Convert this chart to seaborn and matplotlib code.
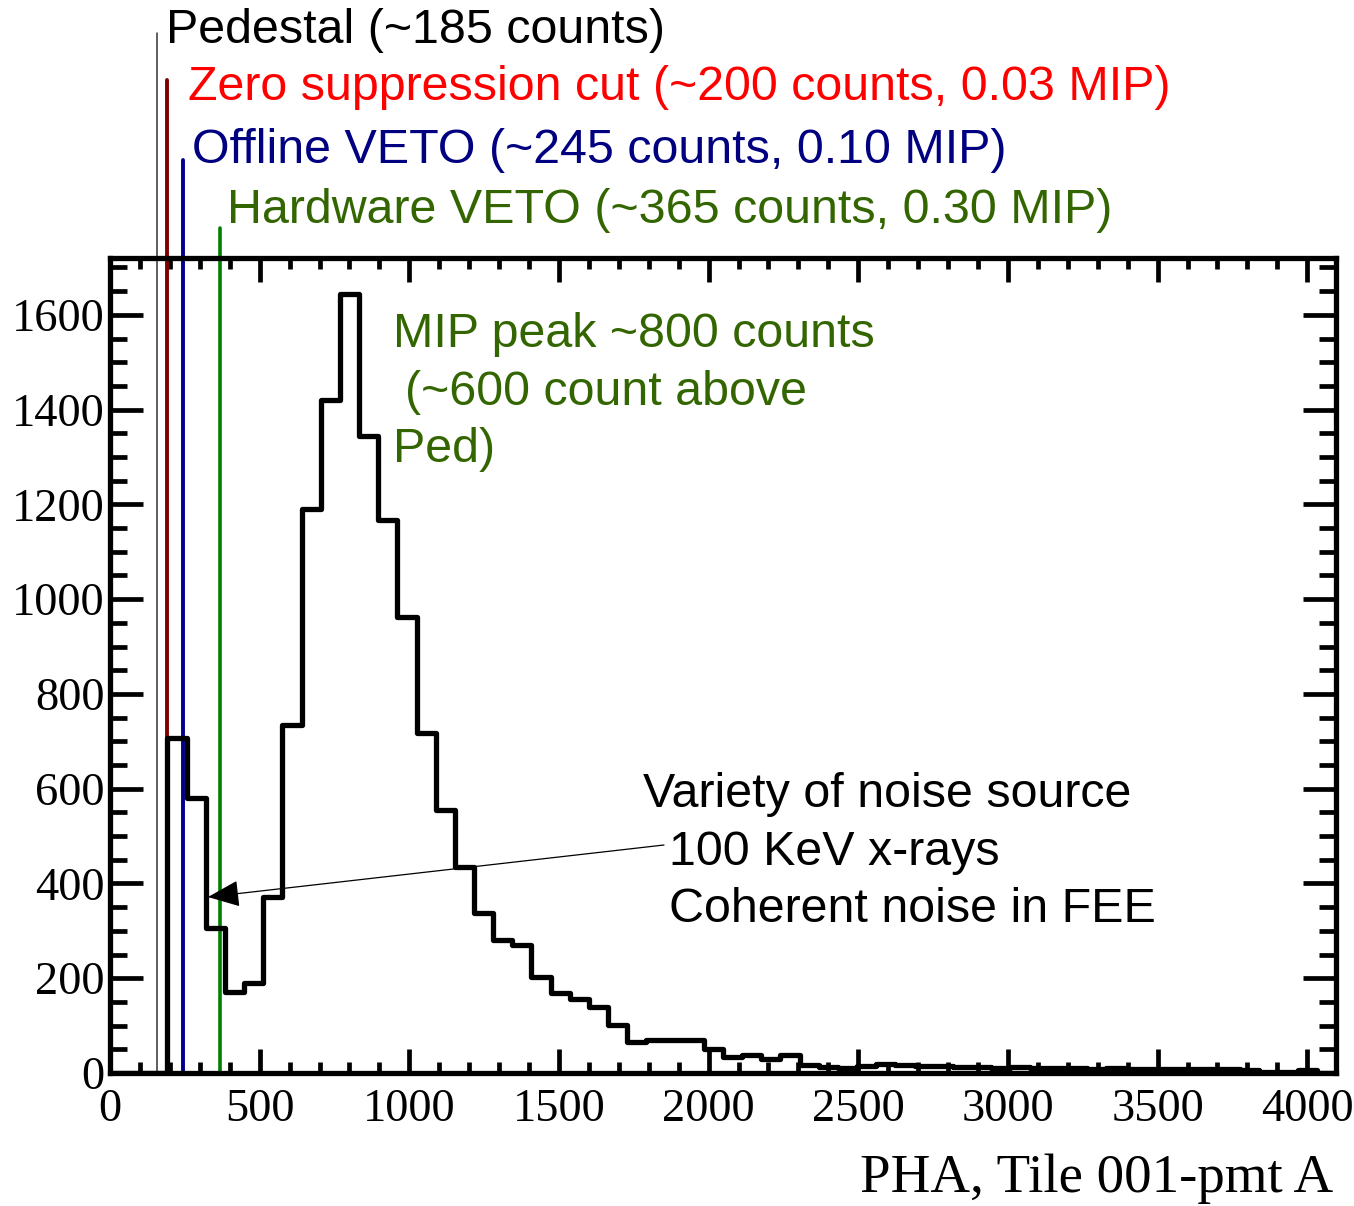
import numpy as np
import pandas as pd
import matplotlib
matplotlib.use("Agg")
import matplotlib.pyplot as plt
from matplotlib.ticker import MultipleLocator
import seaborn as sns

# ---------------- data ----------------
bin_width = 64
bin_edges = list(range(0, 4096 + bin_width, bin_width))
counts = [0, 0, 0, 707, 580, 306, 171, 190, 371, 735,
          1190, 1420, 1645, 1345, 1167, 963, 718, 555, 435, 338,
          281, 270, 203, 169, 156, 139, 101, 65, 70, 70,
          70, 51, 34, 38, 29, 38, 17, 13, 10, 14,
          18, 16, 15, 14, 12, 13, 11, 12, 10, 11,
          10, 9, 10, 9, 8, 9, 8, 8, 9, 7,
          3, 2, 6, 0]
bin_centers = [(a + b) / 2 for a, b in zip(bin_edges[:-1], bin_edges[1:])]

cut_names = ["Pedestal", "Zero suppression", "Offline VETO", "Hardware VETO"]
cut_positions = [157, 192, 245, 367]
cut_line_tops = [2195, 2096, 1927, 1784]
cut_labels = ["Pedestal (~185 counts)",
              "Zero suppression cut (~200 counts, 0.03 MIP)",
              "Offline VETO (~245 counts, 0.10 MIP)",
              "Hardware VETO (~365 counts, 0.30 MIP)"]

xticks = [0, 500, 1000, 1500, 2000, 2500, 3000, 3500, 4000]
yticks = [0, 200, 400, 600, 800, 1000, 1200, 1400, 1600]

df = pd.DataFrame({"pha": bin_centers, "n": counts})

# ---------------- style ----------------
sns.set_style("white")
plt.rcParams["font.family"] = ["Liberation Sans", "DejaVu Sans"]

W, H = 1354, 1206
fig = plt.figure(figsize=(W / 100, H / 100), dpi=100)
ax = fig.add_axes([110 / W, 1 - 1073 / H, (1336 - 110) / W, (1073 - 258) / H])

sns.histplot(data=df, x="pha", weights="n", bins=bin_edges, element="step",
             fill=False, color="black", linewidth=3.8, ax=ax)

ax.set_xlim(0, 4096)
ax.set_ylim(0, 1720)
ax.set_xticks(xticks)
ax.set_yticks(yticks)
ax.xaxis.set_minor_locator(MultipleLocator(100))
ax.yaxis.set_minor_locator(MultipleLocator(50))
ax.set_xlabel("")
ax.set_ylabel("")

for sp in ax.spines.values():
    sp.set_linewidth(3.8)
    sp.set_color("black")
    sp.set_visible(True)

ax.tick_params(which="both", direction="in", top=True, right=True,
               bottom=True, left=True, width=3.4, color="black",
               labelcolor="black")
ax.tick_params(axis="x", which="major", length=17, pad=11)
ax.tick_params(axis="x", which="minor", length=8)
ax.tick_params(axis="y", which="major", length=24, pad=4)
ax.tick_params(axis="y", which="minor", length=12)
for lab in ax.get_xticklabels() + ax.get_yticklabels():
    lab.set_fontfamily("Liberation Serif")
    lab.set_fontsize(33.5)
    lab.set_color("black")

# cut lines (extend above the frame)
line_colors = ["#333333", "#800000", "#00008b", "#008000"]
line_widths = [1.1, 2.8, 2.8, 2.6]
for xp, top, c, lw in zip(cut_positions, cut_line_tops, line_colors, line_widths):
    ax.plot([xp, xp], [0, top], color=c, lw=lw, clip_on=False, zorder=1)

def ftext(x, y, s, **kw):
    fig.text(x / W, 1 - y / H, s, va="baseline", **kw)

FS = 34.8
txt_colors = ["black", "#ff0000", "#000080", "#336600"]
txt_x = [166, 188, 192, 227]
txt_y = [43, 100, 163, 223]
for s, c, x, y in zip(cut_labels, txt_colors, txt_x, txt_y):
    ftext(x, y, s, color=c, fontsize=FS)

# MIP peak annotation
olive = "#336600"
ftext(393, 347, "MIP peak ~800 counts", color=olive, fontsize=FS)
ftext(405, 405, "(~600 count above", color=olive, fontsize=FS)
ftext(393, 462, "Ped)", color=olive, fontsize=FS)

# noise annotation
ftext(643, 807, "Variety of noise source", color="black", fontsize=FS)
ftext(669, 865, "100 KeV x-rays", color="black", fontsize=FS)
ftext(669, 922, "Coherent noise in FEE", color="black", fontsize=FS)

ax.annotate("", xy=(208 / W, 1 - 897 / H), xycoords="figure fraction",
            xytext=(664 / W, 1 - 845 / H), textcoords="figure fraction",
            arrowprops=dict(arrowstyle="-|>,head_length=1.0,head_width=0.42",
                            mutation_scale=20, color="black", lw=0.9,
                            shrinkA=0, shrinkB=0))

# x-axis title
fig.text(1333 / W, 1 - 1192 / H, "PHA, Tile 001-pmt A", ha="right",
         va="baseline", fontsize=39.5, fontfamily="Liberation Serif",
         color="black")

fig.savefig("out.png", dpi=100)
